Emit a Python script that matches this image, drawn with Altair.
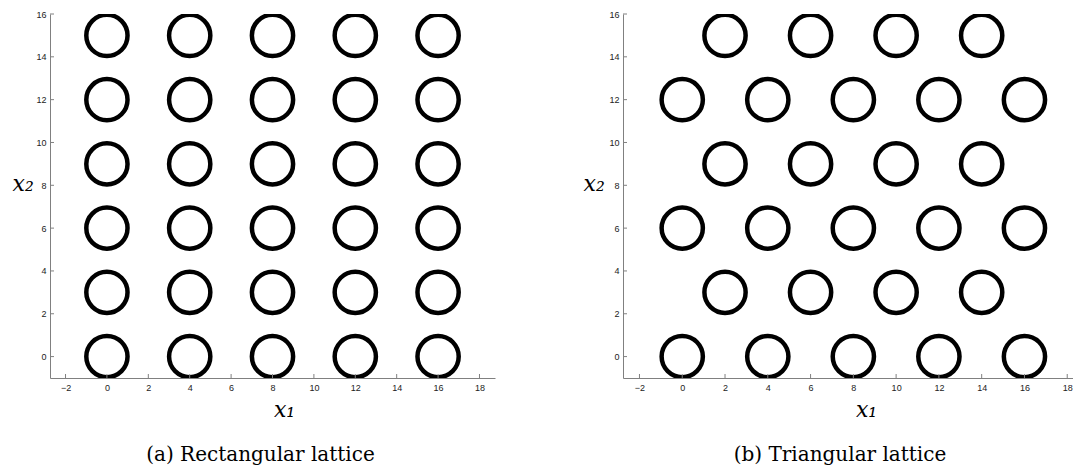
import altair as alt
import pandas as pd

# ---- data ----
rect_cols = [0, 4, 8, 12, 16]
rect_rows = [0, 3, 6, 9, 12, 15]

tri_even_cols = [0, 4, 8, 12, 16]
tri_even_rows = [0, 6, 12]
tri_odd_cols = [2, 6, 10, 14]
tri_odd_rows = [3, 9, 15]

x_ticks = [-2, 0, 2, 4, 6, 8, 10, 12, 14, 16, 18]
y_ticks = [0, 2, 4, 6, 8, 10, 12, 14, 16]

captions = ["(a) Rectangular lattice", "(b) Triangular lattice"]

rect_df = pd.DataFrame([(c, r) for r in rect_rows for c in rect_cols], columns=["x", "y"])
tri_df = pd.DataFrame(
    [(c, r) for r in tri_even_rows for c in tri_even_cols]
    + [(c, r) for r in tri_odd_rows for c in tri_odd_cols],
    columns=["x", "y"],
)
xtick_df = pd.DataFrame({"x": x_ticks})
ytick_df = pd.DataFrame({"y": y_ticks})

GRAY = "#808080"
SERIF = "DejaVu Serif"
SANS = "Liberation Sans"
H = 364


def panel(df, xdom, width, caption, cap_dx, xtitle_x, ytitle_x):
    xs = alt.Scale(domain=xdom, nice=False, zero=False)
    ys = alt.Scale(domain=[-1, 16], nice=False, zero=False)
    circles = alt.Chart(df).mark_point(
        shape="circle", filled=False, size=1700, strokeWidth=4.5,
        color="black", opacity=1, clip=True,
    ).encode(
        x=alt.X("x:Q", scale=xs, axis=alt.Axis(
            values=x_ticks, title="x₁", grid=False, ticks=False,
            labelPadding=5, titleX=xtitle_x, titleY=38, titleAlign="center",
            titleBaseline="alphabetic",
        )),
        y=alt.Y("y:Q", scale=ys, axis=alt.Axis(
            values=y_ticks, title="x₂", grid=False, ticks=False,
            labelPadding=4, titleAngle=0, titleX=ytitle_x, titleY=176,
            titleAlign="left", titleBaseline="alphabetic",
        )),
    )
    xt = alt.Chart(xtick_df).mark_rule(color=GRAY, strokeWidth=1).encode(
        x=alt.X("x:Q", scale=xs), y=alt.value(H), y2=alt.value(H - 4)
    )
    yt = alt.Chart(ytick_df).mark_rule(color=GRAY, strokeWidth=1).encode(
        y=alt.Y("y:Q", scale=ys), x=alt.value(0), x2=alt.value(4)
    )
    return alt.layer(circles, xt, yt).properties(
        width=width, height=H,
        title=alt.TitleParams(
            caption, orient="bottom", anchor="middle", font=SERIF,
            fontSize=20, fontWeight="normal", color="black", dx=cap_dx, offset=25,
        ),
    )


left = panel(rect_df, [-2.75, 18.75], 445, captions[0], -12, 234, -38)
right = panel(tri_df, [-2.77, 18.27], 450, captions[1], -8, 243, -40)

chart = alt.hconcat(left, right, spacing=88).properties(
    padding={"left": 4, "top": 2, "right": 0, "bottom": 0}
).configure_view(stroke=None).configure_axis(
    domainColor=GRAY, domainWidth=1,
    labelFont=SANS, labelFontSize=9, labelColor="#222222",
    titleFont=SERIF, titleFontSize=22, titleFontStyle="italic",
    titleFontWeight="normal", titleColor="black",
)

chart.save("out.html", embed_options={"renderer": "svg", "actions": False})
